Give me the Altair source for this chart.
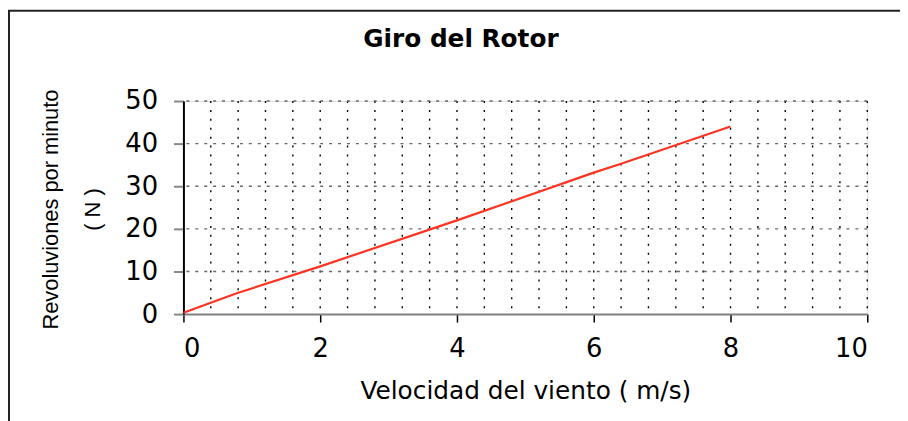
import altair as alt
import pandas as pd

# Data
velocidad = [0, 0.8, 2, 4, 6, 6.4, 8]
rpm = [0.3, 5.0, 11.2, 22.0, 33.2, 35.3, 44.0]

x_ticks = [0, 2, 4, 6, 8, 10]
x_grid = [round(i * 0.4, 1) for i in range(0, 26)]
y_ticks = [0, 10, 20, 30, 40, 50]

df = pd.DataFrame({"v": velocidad, "n": rpm})

FONT = "DejaVu Sans"
ARIAL = "Liberation Sans"

base = alt.Chart(df)

# vertical dotted gridlines (every 0.4 m/s)
vgrid = alt.Chart(pd.DataFrame({"g": x_grid[1:]})).mark_rule(
    color="#000000", strokeWidth=1.4, strokeDash=[2, 7]
).encode(x=alt.X("g:Q", scale=alt.Scale(domain=[0, 10])))

# horizontal dashed gridlines
hgrid = alt.Chart(pd.DataFrame({"g": y_ticks[1:]})).mark_rule(
    color="#666666", strokeWidth=1.3, strokeDash=[3, 6]
).encode(y=alt.Y("g:Q", scale=alt.Scale(domain=[0, 50])))

line = base.mark_line(color="#ff3322", strokeWidth=2.2).encode(
    x=alt.X(
        "v:Q",
        scale=alt.Scale(domain=[0, 10], nice=False, zero=True),
        axis=alt.Axis(
            values=x_ticks,
            format="d",
            title="Velocidad del viento ( m/s)",
            grid=False,
            domainColor="#808080",
            domainWidth=2,
            tickColor="#000000",
            tickSize=8,
            tickWidth=1.5,
            labelFont=FONT,
            labelFontSize=26,
            labelColor="#000000",
            labelPadding=14,
            titleFont=FONT,
            titleFontSize=25,
            titleFontWeight="normal",
            titleColor="#000000",
            titlePadding=17,
        ),
    ),
    y=alt.Y(
        "n:Q",
        scale=alt.Scale(domain=[0, 50], nice=False),
        axis=alt.Axis(
            values=y_ticks,
            format="d",
            title=["Revoluviones por minuto", "( N )"],
            grid=False,
            domainColor="#000000",
            domainWidth=2,
            tickColor="#888888",
            tickSize=10,
            tickWidth=2,
            labelFont=FONT,
            labelFontSize=26,
            labelColor="#000000",
            labelPadding=16,
            titleFont=ARIAL,
            titleFontSize=22,
            titleFontWeight="normal",
            titleColor="#000000",
            titleLineHeight=42,
            titleAngle=-90,
            titleBaseline="bottom",
            titleAlign="center",
            titleX=-122,
            titleY=109,
        ),
    ),
)

border = alt.Chart(pd.DataFrame({"a": [0]})).mark_rect(
    fill=None, stroke="#222222", strokeWidth=2
).encode(
    x=alt.value(-176), x2=alt.value(800), y=alt.value(-91), y2=alt.value(400)
)

chart = (
    alt.layer(border, vgrid, hgrid, line)
    .properties(
        width=690,
        height=215,
        autosize=alt.AutoSizeParams(type="none"),
        padding={"left": 177, "top": 92, "right": 33, "bottom": 106},
        title=alt.Title(
            "Giro del Rotor",
            font=FONT,
            fontSize=25,
            fontWeight="bold",
            color="#000000",
            anchor="middle",
            baseline="alphabetic",
            dx=-65,
            offset=-63,
        ),
    )
    .configure_view(stroke=None)
    .configure(background="white")
)

chart.save("out.html", embed_options={"renderer": "svg", "actions": False})
